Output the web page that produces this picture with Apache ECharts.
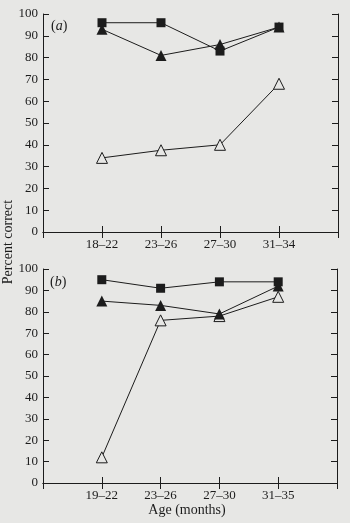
<!DOCTYPE html>
<html><head><meta charset="utf-8">
<script src="https://cdn.jsdelivr.net/npm/echarts@6/dist/echarts.min.js"></script>
<style>html,body{margin:0;padding:0;background:#e7e7e5;}#c{width:350px;height:523px;}</style>
</head><body><div id="c"></div>
<script>
var agesA = ['18–22', '23–26', '27–30', '31–34'];
var agesB = ['19–22', '23–26', '27–30', '31–35'];
var squaresA = [96, 96, 83, 94];
var filledTriA = [93, 81, 86, 94];
var openTriA = [34, 37.5, 40, 68];
var squaresB = [95, 91, 94, 94];
var filledTriB = [85, 83, 79, 92];
var openTriB = [12, 76, 78, 87];
var yTicks = [0, 10, 20, 30, 40, 50, 60, 70, 80, 90, 100];

var FONT = 'Liberation Serif';
var INK = '#1c1c1c';
var BG = '#e7e7e5';
function pad(a) { return [''].concat(a).concat(['']); }
function padV(a) { return [null].concat(a).concat([null]); }

var grids = [
  {left: 43, right: 12, top: 14, height: 218},
  {left: 43, right: 13, top: 269, height: 214}
];
var xAxes = [], yAxes = [], series = [];
[agesA, agesB].forEach(function (cats, g) {
  var common = {type: 'category', gridIndex: g, data: pad(cats), boundaryGap: false,
    axisLine: {lineStyle: {color: INK, width: 1}},
    axisTick: {inside: true, length: 6, lineStyle: {color: INK}},
    splitLine: {show: false}};
  xAxes.push(Object.assign({}, common, {position: 'bottom',
    axisLabel: {color: INK, fontFamily: FONT, fontSize: 13, margin: 6}}));
  xAxes.push(Object.assign({}, common, {position: 'top', axisLabel: {show: false}}));
  var yc = {type: 'value', gridIndex: g, min: 0, max: 100, interval: 10,
    axisLine: {show: true, lineStyle: {color: INK, width: 1}},
    axisTick: {show: true, inside: true, length: 6, lineStyle: {color: INK}},
    splitLine: {show: false}};
  yAxes.push(Object.assign({}, yc, {position: 'left',
    axisLabel: {color: INK, fontFamily: FONT, fontSize: 13, margin: 5,
      formatter: function (v) { return yTicks.indexOf(v) >= 0 ? String(v) : ''; }}}));
  yAxes.push(Object.assign({}, yc, {position: 'right', axisLabel: {show: false}}));
});
function mk(data, g, symbol, size, open) {
  return {type: 'line', xAxisIndex: g * 2, yAxisIndex: g * 2, data: padV(data),
    symbol: symbol, symbolSize: size, showSymbol: true, connectNulls: false,
    lineStyle: {color: INK, width: 1},
    itemStyle: open ? {color: BG, borderColor: INK, borderWidth: 1} : {color: INK, borderWidth: 0},
    emphasis: {disabled: true}, animation: false, z: open ? 3 : 4};
}
series.push(mk(openTriA, 0, 'triangle', 11, true));
series.push(mk(filledTriA, 0, 'triangle', 11, false));
series.push(mk(squaresA, 0, 'rect', 9, false));
series.push(mk(openTriB, 1, 'triangle', 11, true));
series.push(mk(filledTriB, 1, 'triangle', 11, false));
series.push(mk(squaresB, 1, 'rect', 9, false));

var chart = echarts.init(document.getElementById('c'), null, {renderer: 'canvas'});
chart.setOption({
  backgroundColor: BG,
  animation: false,
  grid: grids,
  xAxis: xAxes,
  yAxis: yAxes,
  series: series,
  graphic: [
    {type: 'text', left: 51, top: 19, style: {text: '{p|(}{i|a}{p|)}',
      rich: {p: {fontFamily: FONT, fontSize: 14, fill: INK}, i: {fontFamily: FONT, fontSize: 14, fontStyle: 'italic', fill: INK}}}},
    {type: 'text', left: 50, top: 275, style: {text: '{p|(}{i|b}{p|)}',
      rich: {p: {fontFamily: FONT, fontSize: 14, fill: INK}, i: {fontFamily: FONT, fontSize: 14, fontStyle: 'italic', fill: INK}}}},
    {type: 'text', x: 8, y: 242, rotation: Math.PI / 2, style: {text: 'Percent correct',
      fontFamily: FONT, fontSize: 14, fill: INK, align: 'center', verticalAlign: 'middle'}},
    {type: 'text', x: 187, y: 510, style: {text: 'Age (months)',
      fontFamily: FONT, fontSize: 14, fill: INK, align: 'center', verticalAlign: 'middle'}}
  ]
});
</script></body></html>
